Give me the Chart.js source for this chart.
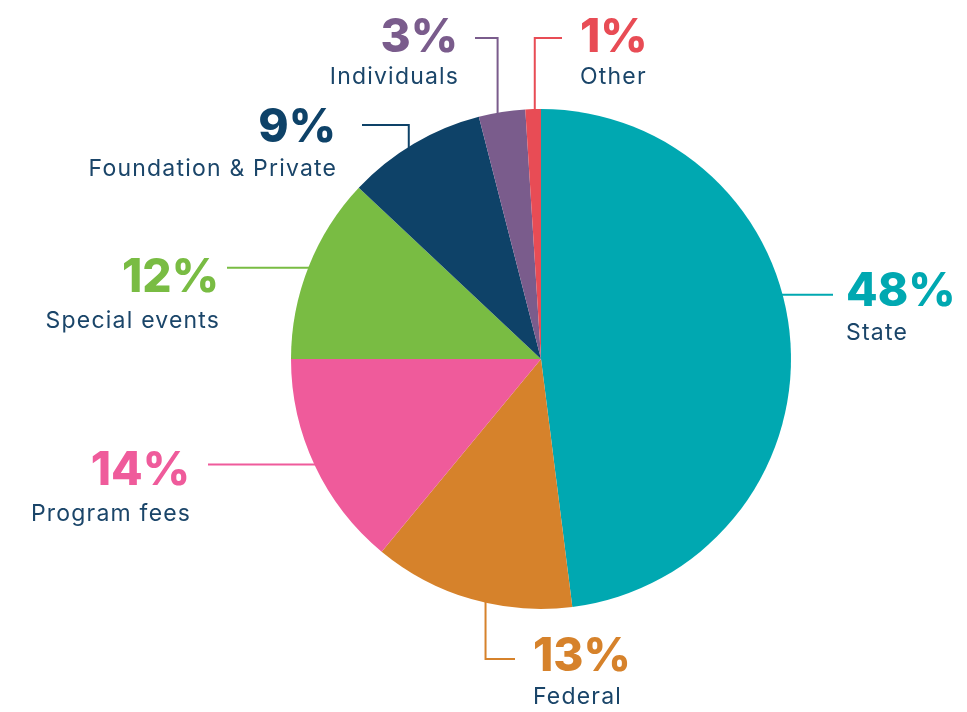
<!DOCTYPE html>
<html lang="en">
<head>
    <meta charset="UTF-8">
    <title>Revenue sources</title>
    <script src="https://cdn.jsdelivr.net/npm/chart.js"></script>
    <style>
        html, body { margin: 0; padding: 0; background: #ffffff; }
        #wrap { width: 967px; height: 712px; position: relative; }
    </style>
</head>
<body>
    <div id="wrap">
        <canvas id="pieChart"></canvas>
    </div>

    <script>
    // data
    var categories = ['State', 'Federal', 'Program fees', 'Special events', 'Foundation & Private', 'Individuals', 'Other'];
    var shares = [48, 13, 14, 12, 9, 3, 1];
    var sliceColors = ['#00A8B1', '#D6822B', '#EF5B9B', '#79BC43', '#0E4268', '#7A5C8C', '#E84C55'];

    var labelColor = '#1A4569';
    var pctFont = '800 46px Inter, "Liberation Sans", sans-serif';
    var nameFont = '400 23px Inter, "Liberation Sans", sans-serif';
    var nameSpacing = 1.2;

    // where each leader line starts on the slice (fraction of the slice arc),
    // how it bends, and where the two text lines go
    var callouts = [
        { at: 0.434, path: [['h', 833]], align: 'left', x: 846, py: 292, ny: 333 },
        { at: 0.43, path: [['v', 659], ['h', 515]], align: 'left', x: 533, py: 657, ny: 697 },
        { at: 0.5, path: [['h', 208]], align: 'right', x: 190, py: 471, ny: 514 },
        { at: 0.5, path: [['h', 227]], align: 'right', x: 219, py: 278, ny: 321 },
        { at: 0.45, path: [['v', 125], ['h', 362]], align: 'right', x: 336, py: 128, ny: 169 },
        { at: 0.4, path: [['v', 38], ['h', 475]], align: 'right', x: 458, py: 38, ny: 77 },
        { at: 0.6, path: [['v', 38], ['h', 562]], align: 'left', x: 580, py: 38, ny: 77 }
    ];

    var calloutPlugin = {
        id: 'callouts',
        afterDraw: function (chart) {
            var ctx = chart.ctx;
            var meta = chart.getDatasetMeta(0);
            meta.data.forEach(function (arc, i) {
                var c = callouts[i];
                var p = arc.getProps(['x', 'y', 'startAngle', 'endAngle', 'outerRadius'], true);
                var a = p.startAngle + (p.endAngle - p.startAngle) * c.at;
                var x = p.x + Math.cos(a) * (p.outerRadius - 2);
                var y = p.y + Math.sin(a) * (p.outerRadius - 2);

                ctx.save();
                ctx.strokeStyle = sliceColors[i];
                ctx.lineWidth = 2;
                ctx.beginPath();
                ctx.moveTo(x, y);
                c.path.forEach(function (seg) {
                    if (seg[0] === 'h') { x = seg[1]; } else { y = seg[1]; }
                    ctx.lineTo(x, y);
                });
                ctx.stroke();

                ctx.textAlign = c.align;
                ctx.textBaseline = 'middle';
                ctx.fillStyle = sliceColors[i];
                ctx.font = pctFont;
                ctx.fillText(shares[i] + '%', c.x, c.py);
                ctx.fillStyle = labelColor;
                ctx.font = nameFont;
                ctx.letterSpacing = nameSpacing + 'px';
                // trailing spacing pushes right-aligned text left, compensate
                var nx = c.align === 'right' ? c.x + nameSpacing : c.x;
                ctx.fillText(categories[i], nx, c.ny);
                ctx.restore();
            });
        }
    };

    new Chart(document.getElementById('pieChart'), {
        type: 'pie',
        data: {
            labels: categories,
            datasets: [{
                data: shares,
                backgroundColor: sliceColors,
                borderWidth: 0
            }]
        },
        options: {
            responsive: true,
            maintainAspectRatio: false,
            animation: false,
            layout: { padding: { top: 109, bottom: 103, left: 291, right: 176 } },
            plugins: {
                legend: { display: false },
                tooltip: { enabled: false }
            }
        },
        plugins: [calloutPlugin]
    });
    </script>
</body>
</html>
